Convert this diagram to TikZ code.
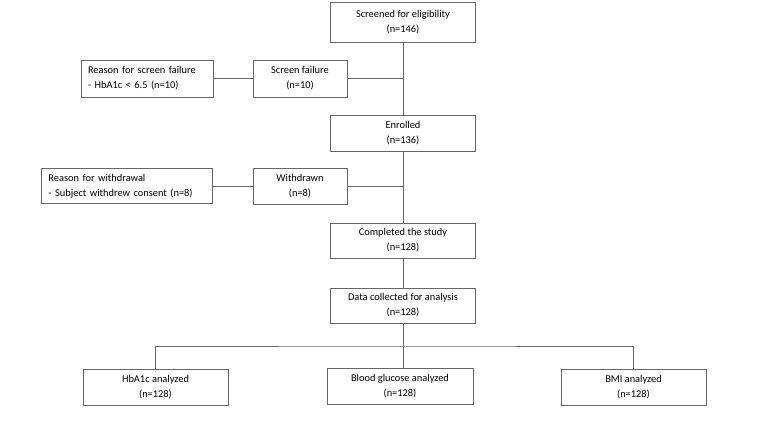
\documentclass[tikz,border=0pt]{standalone}
\usepackage{fontspec}
\setmainfont{Carlito}
\usetikzlibrary{positioning}
\begin{document}
\begin{tikzpicture}[x=1pt, y=1pt]
    % Styles
    \tikzstyle{box} = [rectangle, draw=gray!80!black, line width=0.8pt, fill=white, align=center, inner sep=0pt, font=\fontsize{10.4}{15}\selectfont]
    \tikzstyle{mainbox} = [box, minimum width=145pt, minimum height=36pt]
    \tikzstyle{sidebox} = [box, minimum width=94pt, minimum height=36pt]
    \tikzstyle{reasonbox} = [box, align=left, inner xsep=7pt, minimum height=36pt]
    \tikzstyle{line} = [draw=gray!80!black, line width=0.8pt]

    \useasboundingbox (0,0) rectangle (764,-427);

    % Nodes
    \node[mainbox, minimum height=40pt] (screen) at (403,-22) {Screened for eligibility\\(n=146)};
    \node[sidebox, minimum height=37pt] (fail) at (300,-78.5) {Screen failure\\(n=10)};
    \node[reasonbox, text width=118pt, minimum height=37pt] (failwhy) at (147,-78.5) {Reason for screen failure\\- HbA1c < 6.5 (n=10)};
    \node[mainbox] (enrol) at (403,-133) {Enrolled\\(n=136)};
    \node[sidebox] (withdrawn) at (300,-186) {Withdrawn\\(n=8)};
    \node[reasonbox, text width=157pt, minimum height=35pt] (withdrawwhy) at (127,-186) {Reason for withdrawal\\- Subject withdrew consent (n=8)};
    \node[mainbox, minimum height=35pt] (complete) at (403,-240.5) {Completed the study\\(n=128)};
    \node[mainbox, minimum height=35pt] (data) at (403,-305.5) {Data collected for analysis\\(n=128)};
    \node[mainbox] (hba) at (155.5,-387) {HbA1c analyzed\\(n=128)};
    \node[mainbox, minimum width=146pt] (glucose) at (400,-386) {Blood glucose analyzed\\(n=128)};
    \node[mainbox] (bmi) at (633.5,-387) {BMI analyzed\\(n=128)};
    \coordinate (bus) at (0,-346);

    % Lines
    \draw[line] (screen) -- (enrol);
    \draw[line] (enrol) -- (complete);
    \draw[line] (complete) -- (data);
    \draw[line] (fail.east) -- (fail.east -| screen.south);
    \draw[line] (failwhy) -- (fail);
    \draw[line] (withdrawn.east) -- (withdrawn.east -| enrol.south);
    \draw[line] (withdrawwhy) -- (withdrawn);
    \draw[line] (data.south) -- (data.south |- glucose.north);
    \draw[line] (hba.north) |- (bus -| glucose.north) -| (bmi.north);
\end{tikzpicture}
\end{document}
